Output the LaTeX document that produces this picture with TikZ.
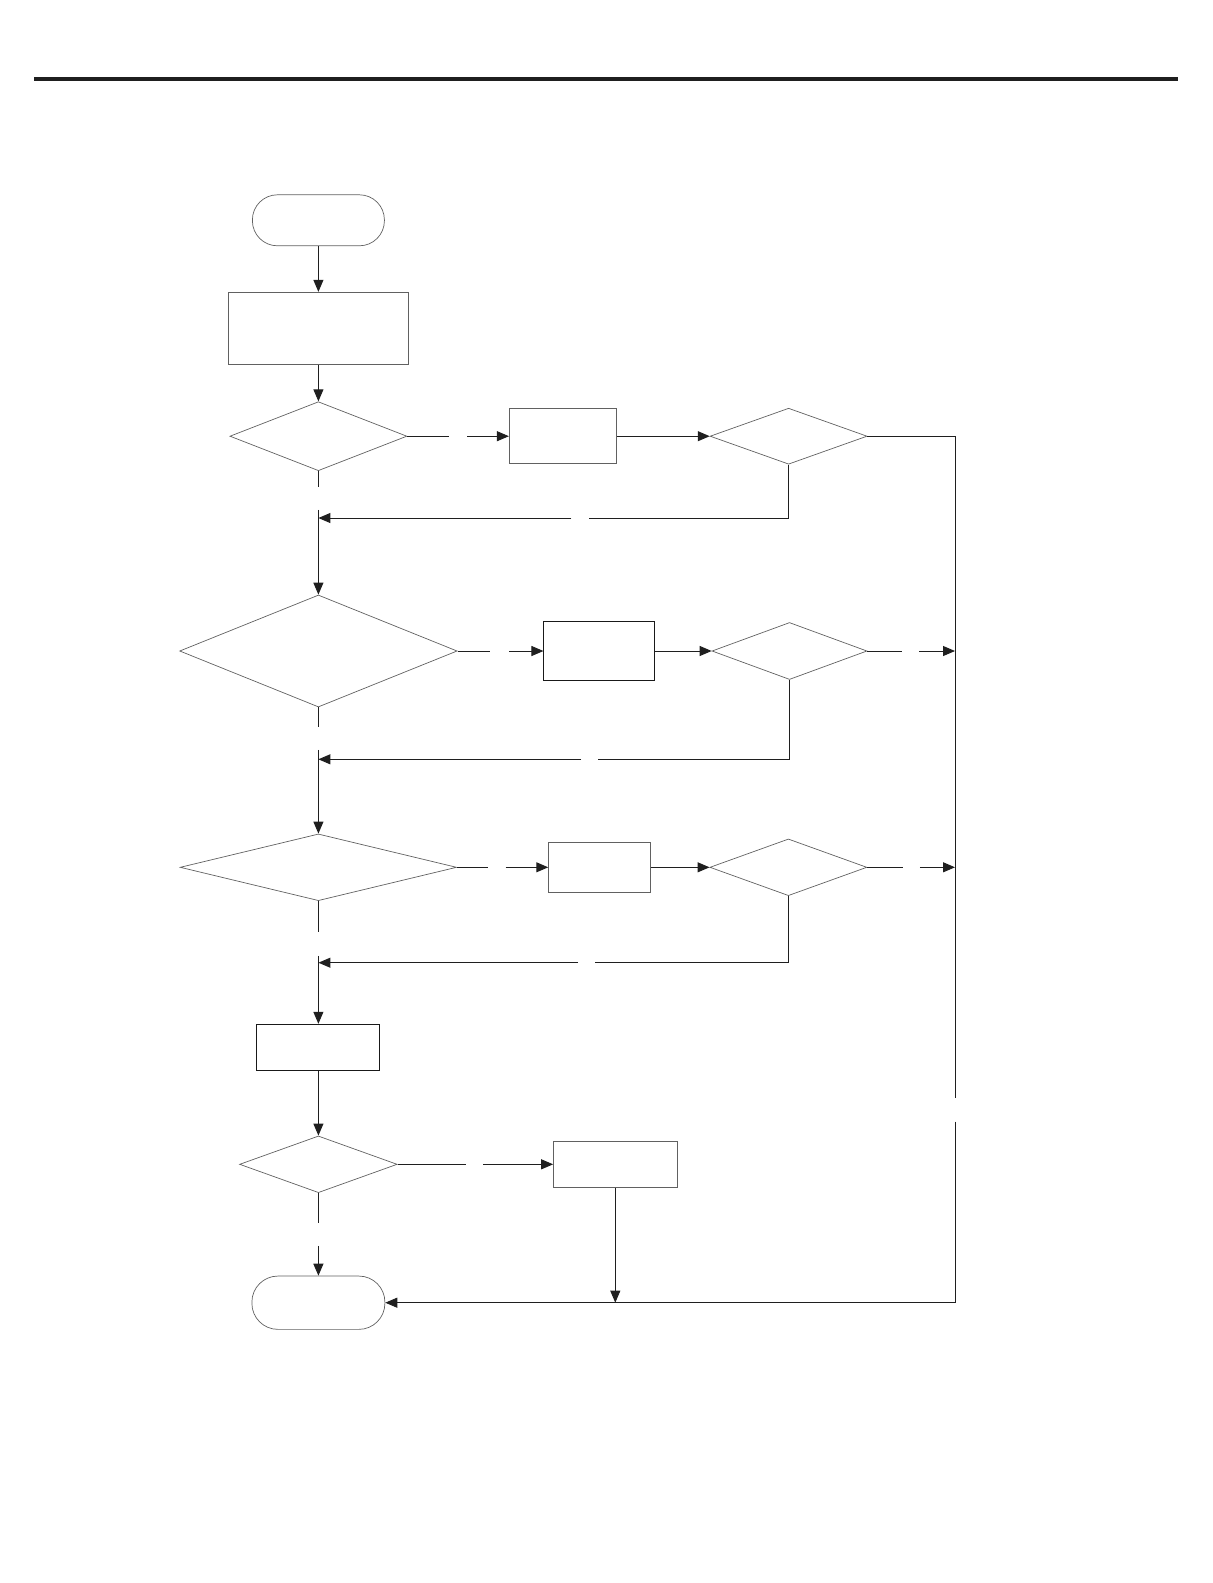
\documentclass[tikz,border=0pt]{standalone}
\usetikzlibrary{shapes.geometric,arrows.meta}
\begin{document}
\begin{tikzpicture}[x=1pt,y=-1pt,
  conn/.style={draw=black!88, line width=1pt},
  arr/.style={conn,-{Triangle[length=12pt,width=10pt]}},
  shapeline/.style={draw=black!62, line width=0.7pt},
  term/.style={shapeline, rectangle, inner sep=0pt},
  proc/.style={shapeline, rectangle, inner sep=0pt},
  procdark/.style={draw=black!90, line width=1pt, rectangle, inner sep=0pt},
  dec/.style={shapeline, diamond, inner sep=0pt},
  gapn/.style={inner sep=0pt, outer sep=0pt, minimum width=1pt, minimum height=1pt}
]
\useasboundingbox (0,0) rectangle (1213,1583);
% top rule
\draw[line width=4pt, black!88] (34,79) -- (1178,79);

% shapes
\node[term, rounded corners=25pt, minimum width=132pt, minimum height=51pt] (start) at (318.4,220.3) {};
\node[proc, minimum width=180pt, minimum height=72pt] (b1) at (318.4,328.2) {};
\node[dec, minimum width=177pt, minimum height=69pt] (d1) at (318.4,436.2) {};
\node[proc, minimum width=107.5pt, minimum height=55pt] (b2) at (563,436.2) {};
\node[dec, minimum width=157pt, minimum height=56pt] (d2) at (788.6,436.2) {};

\node[dec, minimum width=277.5pt, minimum height=112pt] (d3) at (318.4,651) {};
\node[procdark, minimum width=110.7pt, minimum height=59pt] (b3) at (599.3,651) {};
\node[dec, minimum width=155pt, minimum height=57pt] (d4) at (789.5,651) {};

\node[dec, minimum width=276.5pt, minimum height=66.7pt] (d5) at (318.4,867.3) {};
\node[proc, minimum width=102pt, minimum height=49.3pt] (b4) at (599.6,867.3) {};
\node[dec, minimum width=157pt, minimum height=56.7pt] (d6) at (788.4,867.3) {};

\node[procdark, minimum width=123pt, minimum height=46pt] (b5) at (318.4,1047.3) {};
\node[dec, minimum width=157.6pt, minimum height=56.7pt] (d7) at (318.4,1164.3) {};
\node[proc, minimum width=123.6pt, minimum height=46pt] (b6) at (615.3,1164.3) {};
\node[term, rounded corners=26pt, minimum width=133pt, minimum height=53.3pt] (end) at (318.4,1302.7) {};

% gaps (blank label places)
\node[gapn, minimum width=18pt] (g1) at (458,436.2) {};
\node[gapn, minimum height=23.3pt] (g2) at (318.4,498.3) {};
\node[gapn, minimum width=18pt] (g3) at (580.3,518) {};
\node[gapn, minimum width=19pt] (g4) at (499.8,651) {};
\node[gapn, minimum width=17pt] (g5) at (910.5,651) {};
\node[gapn, minimum height=23.3pt] (g6) at (318.4,738.3) {};
\node[gapn, minimum width=16.4pt] (g7) at (589.4,759.3) {};
\node[gapn, minimum width=17.3pt] (g8) at (497,867.3) {};
\node[gapn, minimum width=17.3pt] (g9) at (911.3,867.3) {};
\node[gapn, minimum height=24.3pt] (g10) at (318.4,943.8) {};
\node[gapn, minimum width=17.3pt] (g11) at (586.8,962.7) {};
\node[gapn, minimum width=17pt] (g12) at (474.7,1164.3) {};
\node[gapn, minimum height=23.3pt] (g13) at (318.4,1234.3) {};
\node[gapn, minimum height=23.4pt] (g14) at (955,1110) {};

% main column
\draw[arr] (start.south) -- (b1.north);
\draw[arr] (b1.south) -- (d1.north);
\draw[conn] (d1.south) -- (g2.north);
\draw[arr] (g2.south) -- (d3.north);
\draw[conn] (d3.south) -- (g6.north);
\draw[arr] (g6.south) -- (d5.north);
\draw[conn] (d5.south) -- (g10.north);
\draw[arr] (g10.south) -- (b5.north);
\draw[arr] (b5.south) -- (d7.north);
\draw[conn] (d7.south) -- (g13.north);
\draw[arr] (g13.south) -- (end.north);

% row 1
\draw[conn] (d1.east) -- (g1.west);
\draw[arr] (g1.east) -- (b2.west);
\draw[arr] (b2.east) -- (d2.west);
\draw[conn] (d2.south) |- (g3.east);
\draw[arr] (g3.west) -- (b1.south |- g3.west);
\draw[conn] (d2.east) -| (g14.north);
\draw[arr] (g14.south) |- (end.east);

% row 2
\draw[conn] (d3.east) -- (g4.west);
\draw[arr] (g4.east) -- (b3.west);
\draw[arr] (b3.east) -- (d4.west);
\draw[conn] (d4.east) -- (g5.west);
\draw[arr] (g5.east) -- (g14.north |- g5.east);
\draw[conn] (d4.south) |- (g7.east);
\draw[arr] (g7.west) -- (b1.south |- g7.west);

% row 3
\draw[conn] (d5.east) -- (g8.west);
\draw[arr] (g8.east) -- (b4.west);
\draw[arr] (b4.east) -- (d6.west);
\draw[conn] (d6.east) -- (g9.west);
\draw[arr] (g9.east) -- (g14.north |- g9.east);
\draw[conn] (d6.south) |- (g11.east);
\draw[arr] (g11.west) -- (b1.south |- g11.west);

% row 4
\draw[conn] (d7.east) -- (g12.west);
\draw[arr] (g12.east) -- (b6.west);
\draw[arr] (b6.south) -- (b6.south |- end.east);
\end{tikzpicture}
\end{document}
